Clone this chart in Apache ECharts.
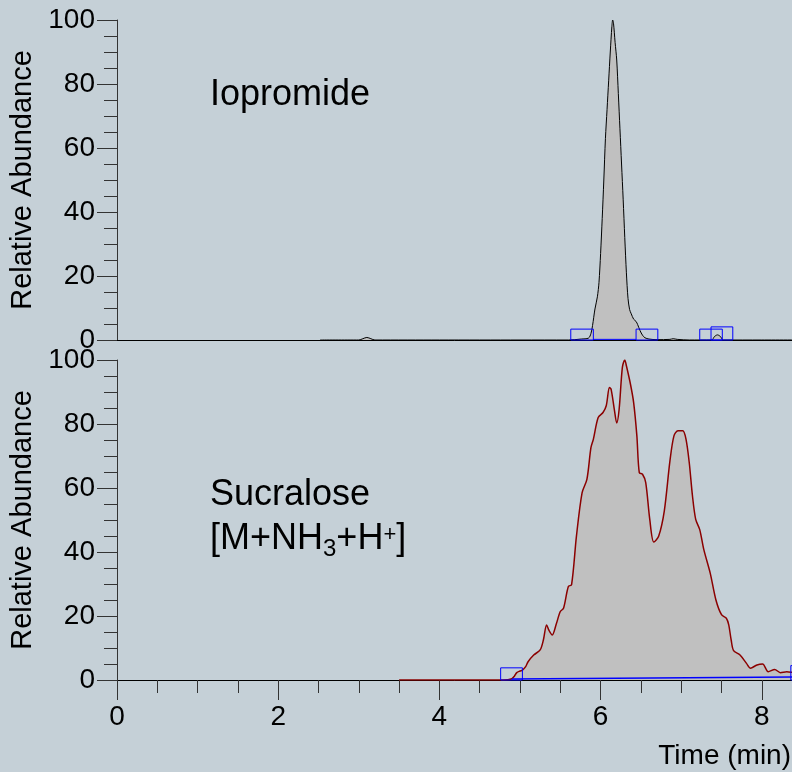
<!DOCTYPE html>
<html>
<head>
<meta charset="utf-8">
<script src="https://cdn.jsdelivr.net/npm/echarts@6/dist/echarts.min.js"></script>
<style>
  html, body { margin: 0; padding: 0; background: #c5d0d7; }
  #chart { width: 792px; height: 772px; }
</style>
</head>
<body>
<div id="chart"></div>
<script>
// [time (min), relative abundance]
const iopromide = [
  [2.52, 0], [3.0, 0], [3.05, 0.4], [3.1, 0.8], [3.15, 0.4], [3.2, 0], [4.0, 0], [5.0, 0], [5.6, 0],
  [5.76, 0.3], [5.85, 0.6], [5.88, 2], [5.9, 4.5], [5.93, 9.7], [5.96, 13.5], [5.98, 18], [6.0, 27],
  [6.02, 38], [6.04, 50], [6.06, 63], [6.08, 72], [6.1, 81], [6.12, 90], [6.14, 98], [6.15, 100],
  [6.16, 99], [6.18, 93], [6.2, 87.5], [6.22, 77], [6.24, 66], [6.26, 55], [6.28, 44], [6.3, 32],
  [6.32, 21], [6.34, 13], [6.36, 9.5], [6.38, 8.2], [6.41, 6.5], [6.44, 5.8], [6.46, 4.8], [6.49, 2.9],
  [6.52, 1.5], [6.55, 0.7], [6.6, 0.3], [6.7, 0.1], [6.86, 0.2], [6.9, 0.4], [6.95, 0.2], [7.1, 0],
  [7.38, 0], [7.41, 1], [7.45, 1.6], [7.49, 1], [7.52, 0], [8.0, 0], [8.6, 0]
];
const sucralose = [
  [3.5, 0], [4.0, 0], [4.5, 0], [4.85, 0.1], [4.9, 0.4], [4.93, 1.2], [4.96, 2.3], [5.0, 2.8],
  [5.03, 3.1], [5.07, 4.2], [5.1, 5.7], [5.17, 7.8], [5.25, 9.4], [5.29, 12.5], [5.33, 17.2],
  [5.36, 15.5], [5.4, 14.1], [5.45, 17.5], [5.5, 21.4], [5.54, 22.4], [5.6, 29.2], [5.64, 29.8],
  [5.7, 44.9], [5.77, 58.5], [5.83, 62.7], [5.88, 72.6], [5.91, 75.2], [5.97, 82], [6.03, 83.6],
  [6.07, 85.7], [6.11, 91.4], [6.13, 90.9], [6.17, 84.6], [6.2, 80.3], [6.23, 84.6], [6.27, 97.7],
  [6.3, 100], [6.32, 98.2], [6.37, 92.5], [6.41, 86.7], [6.45, 76.3], [6.48, 64.8], [6.52, 64.3],
  [6.56, 61.7], [6.61, 50.2], [6.66, 43.1], [6.72, 44.9], [6.79, 52.8], [6.86, 68.4], [6.91, 76.3],
  [6.96, 77.9], [7.02, 77.9], [7.06, 75.2], [7.1, 67.9], [7.14, 57.5], [7.18, 50.2], [7.23, 47],
  [7.28, 40.8], [7.36, 33.4], [7.43, 25.1], [7.5, 20.4], [7.56, 19.3], [7.59, 17.2], [7.62, 12.5],
  [7.65, 9.2], [7.73, 7.8], [7.81, 5.2], [7.86, 3.7], [7.94, 4.7], [8.01, 5.0], [8.08, 2.6],
  [8.16, 3.3], [8.23, 2.3], [8.31, 2.6], [8.4, 2.3], [8.6, 2.0]
];
// integration boxes: [start, end, height]
const topBoxes = [[5.63, 5.91, 3.4], [6.44, 6.71, 3.4], [7.23, 7.51, 3.4], [7.37, 7.64, 4.1]];
const bottomBoxes = [[4.76, 5.03, 3.8], [8.36, 8.7, 4.5]];
// integration baselines
const topBase = [[5.91, 0.2], [6.44, 0.2]];
const bottomBase = [[4.9, 0.3], [8.6, 1.0]];

const xTicks = { min: 0, max: 10, interval: 2 };
const yTicks = { min: 0, max: 100, interval: 20 };

const font = 'Liberation Sans, Arial, sans-serif';
const axisColor = '#333';

const chart = echarts.init(document.getElementById('chart'));

function boxSeries(data, xi) {
  return {
    type: 'custom',
    xAxisIndex: xi,
    yAxisIndex: xi,
    data: data,
    z: 5,
    renderItem: function (params, api) {
      const p0 = api.coord([api.value(0), api.value(2)]);
      const p1 = api.coord([api.value(1), 0]);
      return {
        type: 'rect',
        shape: { x: p0[0], y: p0[1], width: p1[0] - p0[0], height: p1[1] - p0[1] },
        style: { fill: 'none', stroke: '#0000ff', lineWidth: 1 }
      };
    }
  };
}

function yAxis(gi) {
  return {
    type: 'value', gridIndex: gi,
    min: yTicks.min, max: yTicks.max, interval: yTicks.interval,
    name: 'Relative Abundance', nameLocation: 'middle', nameGap: 77,
    nameTextStyle: { fontSize: 29, color: '#000', fontFamily: font },
    axisLine: { show: true, lineStyle: { color: axisColor } },
    axisTick: { show: true, length: 20, lineStyle: { color: axisColor } },
    minorTick: { show: true, splitNumber: 4, length: 13, lineStyle: { color: axisColor } },
    axisLabel: { fontSize: 28, color: '#000', fontFamily: font, margin: 22 },
    splitLine: { show: false }
  };
}

const option = {
  backgroundColor: '#c5d0d7',
  animation: false,
  grid: [
    { left: 117, top: 20, width: 806, height: 320, outerBoundsMode: 'none', containLabel: false },
    { left: 117, top: 360, width: 806, height: 320, outerBoundsMode: 'none', containLabel: false }
  ],
  xAxis: [
    {
      type: 'value', gridIndex: 0, min: xTicks.min, max: xTicks.max, interval: xTicks.interval,
      axisLine: { show: true, onZero: false, lineStyle: { color: '#000' } },
      axisTick: { show: false }, axisLabel: { show: false }, splitLine: { show: false }
    },
    {
      type: 'value', gridIndex: 1, min: xTicks.min, max: xTicks.max, interval: xTicks.interval,
      axisLine: { show: true, onZero: false, lineStyle: { color: '#000' } },
      axisTick: { show: true, length: 20, lineStyle: { color: axisColor } },
      minorTick: { show: true, splitNumber: 4, length: 13, lineStyle: { color: axisColor } },
      axisLabel: { fontSize: 28, color: '#000', fontFamily: font, margin: 23 },
      splitLine: { show: false }
    }
  ],
  yAxis: [yAxis(0), yAxis(1)],
  series: [
    {
      type: 'line', xAxisIndex: 0, yAxisIndex: 0, data: iopromide,
      showSymbol: false, smooth: 0.3,
      lineStyle: { color: '#000', width: 1 },
      areaStyle: { color: '#c0c0c0', opacity: 1 }, z: 3
    },
    {
      type: 'line', xAxisIndex: 1, yAxisIndex: 1, data: sucralose,
      showSymbol: false, smooth: 0.3,
      lineStyle: { color: '#8b0000', width: 1.5 },
      areaStyle: { color: '#c0c0c0', opacity: 1 }, z: 3
    },
    {
      type: 'line', xAxisIndex: 0, yAxisIndex: 0, data: topBase,
      showSymbol: false, lineStyle: { color: '#0000ff', width: 1 }, z: 4
    },
    {
      type: 'line', xAxisIndex: 1, yAxisIndex: 1, data: bottomBase,
      showSymbol: false, lineStyle: { color: '#0000ff', width: 1.5 }, z: 4
    },
    boxSeries(topBoxes, 0),
    boxSeries(bottomBoxes, 1)
  ],
  graphic: [
    {
      type: 'text', left: 210, top: 77,
      style: { text: 'Iopromide', fontSize: 36, fontFamily: font, fill: '#000' }
    },
    {
      type: 'text', left: 210, top: 477,
      style: {
        text: '{n|Sucralose}\n{n|[M+NH}{sub|3}{n|+H}{sup|+}{n|]}',
        fontFamily: font, fill: '#000',
        rich: {
          n: { fontSize: 36, lineHeight: 44, fontFamily: font, fill: '#000' },
          sub: { fontSize: 24, lineHeight: 26, verticalAlign: 'bottom', fontFamily: font, fill: '#000' },
          sup: { fontSize: 22, lineHeight: 22, verticalAlign: 'middle', padding: [0, 0, 8, 0], fontFamily: font, fill: '#000' }
        }
      }
    },
    {
      type: 'text', right: 1, top: 742,
      style: { text: 'Time (min)', fontSize: 28, fontFamily: font, fill: '#000' }
    }
  ]
};

chart.setOption(option);
</script>
</body>
</html>
